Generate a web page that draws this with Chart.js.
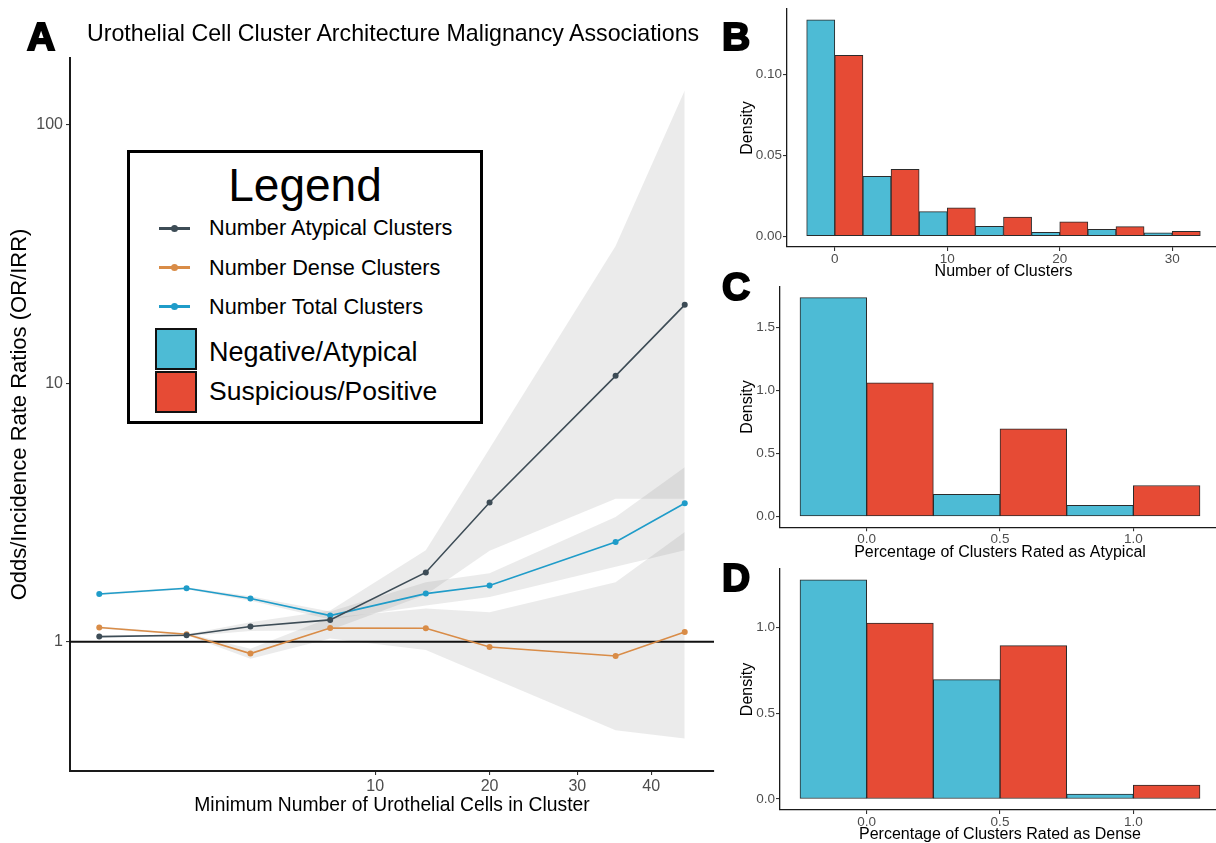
<!DOCTYPE html>
<html>
<head>
<meta charset="utf-8">
<script src="https://cdn.jsdelivr.net/npm/chart.js@4.4.1/dist/chart.umd.min.js"></script>
<style>
    html, body { margin: 0; padding: 0; background: #fff; }
    body { width: 1216px; height: 843px; overflow: hidden; position: relative; font-family: "Liberation Sans", Arial, Helvetica, sans-serif; color: #000; }
    canvas { position: absolute; }
    .txt { position: absolute; white-space: nowrap; }
    .letter { position: absolute; font-weight: 700; font-size: 39px; line-height: 39px; -webkit-text-stroke: 2px #000; }
    #legend { position: absolute; left: 127px; top: 150px; width: 350px; height: 268px; border: 3px solid #000; background: #fff; }
    #legend .lineKey { position: absolute; left: 29px; width: 31px; height: 2.5px; }
    #legend .dot { position: absolute; left: 12px; top: -2.5px; width: 7px; height: 7px; border-radius: 50%; }
    #legend .swatch { position: absolute; left: 25px; width: 42px; height: 42px; box-sizing: border-box; border: 2.5px solid #111; }
</style>
</head>
<body>
<canvas id="chartA" width="720" height="843" style="left:0;top:0"></canvas>
<canvas id="chartB" width="500" height="284" style="left:720px;top:0"></canvas>
<canvas id="chartC" width="500" height="290" style="left:720px;top:272px"></canvas>
<canvas id="chartD" width="500" height="290" style="left:720px;top:555px"></canvas>

<div class="txt" style="left:87px;top:22px;font-size:23.2px;line-height:23.2px">Urothelial Cell Cluster Architecture Malignancy Associations</div>
<div class="letter" style="left:27px;top:17px">A</div>
<div class="letter" style="left:722px;top:17px">B</div>
<div class="letter" style="left:722px;top:267px">C</div>
<div class="letter" style="left:722px;top:558px">D</div>

<div id="legend">
    <div class="txt" style="left:0;width:350px;text-align:center;top:9px;font-size:46px;line-height:46px">Legend</div>
    <div class="lineKey" style="top:74px;background:#3d4c56"><div class="dot" style="background:#3d4c56"></div></div>
    <div class="txt" style="left:79px;top:64px;font-size:21.7px;line-height:21.7px">Number Atypical Clusters</div>
    <div class="lineKey" style="top:113px;background:#d98c47"><div class="dot" style="background:#d98c47"></div></div>
    <div class="txt" style="left:79px;top:104px;font-size:21.7px;line-height:21.7px">Number Dense Clusters</div>
    <div class="lineKey" style="top:152px;background:#1f9cc9"><div class="dot" style="background:#1f9cc9"></div></div>
    <div class="txt" style="left:79px;top:143px;font-size:21.7px;line-height:21.7px">Number Total Clusters</div>
    <div class="swatch" style="top:175px;background:#4DBBD5"></div>
    <div class="swatch" style="top:218px;background:#E64B35"></div>
    <div class="txt" style="left:79px;top:186px;font-size:27px;line-height:27px">Negative/Atypical</div>
    <div class="txt" style="left:79px;top:225px;font-size:26.5px;line-height:26.5px">Suspicious/Positive</div>
</div>

<script>
    // panel A: odds / incidence rate ratios by minimum cluster size
    const MIN_CELLS = [0, 1, 3, 7, 14, 20, 35, 45];
    const ATYPICAL_OR = [1.047, 1.06, 1.145, 1.215, 1.855, 3.46, 10.69, 20.13];
    const ATYPICAL_LO = [1.04, 1.05, 1.10, 1.11, 1.52, 2.25, 3.58, 3.58];
    const ATYPICAL_HI = [1.055, 1.07, 1.19, 1.32, 2.26, 5.6, 34, 136];
    const DENSE_OR = [1.135, 1.069, 0.900, 1.131, 1.128, 0.955, 0.881, 1.091];
    const DENSE_LO = [1.125, 1.06, 0.86, 1.03, 0.93, 0.73, 0.455, 0.422];
    const DENSE_HI = [1.145, 1.08, 0.94, 1.24, 1.345, 1.30, 1.70, 2.66];
    const TOTAL_OR = [1.531, 1.611, 1.470, 1.263, 1.536, 1.650, 2.432, 3.435];
    const TOTAL_LO = [1.515, 1.595, 1.44, 1.22, 1.38, 1.49, 1.95, 2.26];
    const TOTAL_HI = [1.545, 1.625, 1.50, 1.31, 1.70, 1.84, 3.04, 4.74];
    const X_TICKS_A = [10, 20, 30, 40];
    const Y_TICKS_A = [1, 10, 100];
    const REF_LINE = 1;

    // panel B: number of clusters
    const B_BINS = [0, 5, 10, 15, 20, 25, 30];
    const B_NEG = [0.1338, 0.0371, 0.0152, 0.0061, 0.0024, 0.0043, 0.0021];
    const B_POS = [0.1119, 0.0414, 0.0176, 0.0118, 0.0089, 0.0059, 0.0030];
    const B_X_TICKS = [0, 10, 20, 30];
    const B_Y_TICKS = [0, 0.05, 0.10];

    // panel C: share rated atypical
    const C_BINS = [0, 0.5, 1.0];
    const C_NEG = [1.736, 0.174, 0.087];
    const C_POS = [1.060, 0.694, 0.245];
    const C_Y_TICKS = [0, 0.5, 1.0, 1.5];

    // panel D: share rated dense
    const D_BINS = [0, 0.5, 1.0];
    const D_NEG = [1.277, 0.696, 0.029];
    const D_POS = [1.025, 0.894, 0.081];
    const D_Y_TICKS = [0, 0.5, 1.0];
    const PCT_X_TICKS = [0, 0.5, 1.0];

    const ATYPICAL_COLOR = '#3d4c56';
    const DENSE_COLOR = '#d98c47';
    const TOTAL_COLOR = '#1f9cc9';
    const NEG_COLOR = '#4DBBD5';
    const POS_COLOR = '#E64B35';
    const BAND_FILL = 'rgba(128, 128, 128, 0.16)';
    const TICK_TEXT = '#4d4d4d';

    Chart.defaults.font.family = '"Liberation Sans", Arial, Helvetica, sans-serif';
    Chart.defaults.color = '#000';

    // ggplot-like 5% padding of a range
    function expand(lo, hi) {
        const p = (hi - lo) * 0.05;
        return [lo - p, hi + p];
    }

    function fixedTicks(values) {
        return function (scale) {
            scale.ticks = values.map(v => ({ value: v }));
        };
    }

    function axisLook(lineWidth, tickSize) {
        return {
            grid: { drawOnChartArea: false, drawTicks: true, tickLength: 4, color: '#333', lineWidth: 1.1 },
            border: { display: true, color: '#1a1a1a', width: lineWidth },
            ticks: { color: TICK_TEXT, font: { size: tickSize }, maxRotation: 0, autoSkip: false }
        };
    }

    // ---------- panel A ----------
    const sqrtLim = expand(0, Math.sqrt(Math.max(...MIN_CELLS)));
    const logLo = Math.log10(Math.min(...ATYPICAL_LO, ...DENSE_LO, ...TOTAL_LO));
    const logHi = Math.log10(Math.max(...ATYPICAL_HI, ...DENSE_HI, ...TOTAL_HI));
    const logLim = expand(logLo, logHi).map(v => Math.pow(10, v));

    const pts = ys => MIN_CELLS.map((c, i) => ({ x: Math.sqrt(c), y: ys[i] }));

    function lineSet(label, ys, color) {
        return {
            label: label, data: pts(ys), borderColor: color, backgroundColor: color,
            borderWidth: 1.6, pointRadius: 3, pointBorderWidth: 0, fill: false, tension: 0
        };
    }

    function bandSets(lo, hi) {
        return [
            { data: pts(hi), borderColor: 'rgba(0,0,0,0)', borderWidth: 0, pointRadius: 0, fill: false },
            { data: pts(lo), borderColor: 'rgba(0,0,0,0)', borderWidth: 0, pointRadius: 0, fill: '-1', backgroundColor: BAND_FILL }
        ];
    }

    const lookA = axisLook(2, 16);
    new Chart(document.getElementById('chartA'), {
        type: 'line',
        data: {
            datasets: [
                lineSet('Number Atypical Clusters', ATYPICAL_OR, ATYPICAL_COLOR),
                lineSet('Number Dense Clusters', DENSE_OR, DENSE_COLOR),
                lineSet('Number Total Clusters', TOTAL_OR, TOTAL_COLOR),
                {
                    data: [{ x: sqrtLim[0], y: REF_LINE }, { x: sqrtLim[1], y: REF_LINE }],
                    borderColor: '#111', borderWidth: 1.8, pointRadius: 0, fill: false
                },
                ...bandSets(ATYPICAL_LO, ATYPICAL_HI),
                ...bandSets(DENSE_LO, DENSE_HI),
                ...bandSets(TOTAL_LO, TOTAL_HI)
            ]
        },
        options: {
            responsive: false,
            animation: false,
            layout: { padding: { top: 58, right: 6, bottom: 0, left: 0 } },
            plugins: { legend: { display: false }, tooltip: { enabled: false } },
            scales: {
                x: {
                    type: 'linear', bounds: 'data', min: sqrtLim[0], max: sqrtLim[1],
                    afterBuildTicks: fixedTicks(X_TICKS_A.map(Math.sqrt)),
                    afterFit: s => { s.height = 72; },
                    grid: lookA.grid, border: lookA.border,
                    ticks: Object.assign({}, lookA.ticks, { padding: 2, callback: (v, i) => X_TICKS_A[i] }),
                    title: { display: true, text: 'Minimum Number of Urothelial Cells in Cluster', font: { size: 19.3 }, padding: { top: 0, bottom: 26 } }
                },
                y: {
                    type: 'logarithmic', bounds: 'data', min: logLim[0], max: logLim[1],
                    afterBuildTicks: fixedTicks(Y_TICKS_A),
                    afterFit: s => { s.width = 70; },
                    grid: lookA.grid, border: lookA.border,
                    ticks: Object.assign({}, lookA.ticks, { padding: 3, callback: v => String(v) }),
                    title: { display: true, text: 'Odds/Incidence Rate Ratios (OR/IRR)', font: { size: 22 }, padding: { top: 7, bottom: 0 } }
                }
            }
        }
    });

    // ---------- panels B, C, D ----------
    function makeHist(id, bins, neg, pos, xTicks, yTicks, digits, xTitle, box) {
        const w = bins[1] - bins[0];
        const xLim = expand(bins[0] - w / 2, bins[bins.length - 1] + w / 2);
        const yLim = expand(0, Math.max(...neg, ...pos));
        const look = axisLook(1.3, 13.5);
        const barSet = (label, vals, color) => ({
            label: label,
            data: bins.map((b, i) => ({ x: b, y: vals[i] })),
            backgroundColor: color, borderColor: '#2b2b2b', borderWidth: 1,
            borderSkipped: false, categoryPercentage: 1, barPercentage: 1
        });
        new Chart(document.getElementById(id), {
            type: 'bar',
            data: {
                datasets: [
                    barSet('Negative/Atypical', neg, NEG_COLOR),
                    barSet('Suspicious/Positive', pos, POS_COLOR)
                ]
            },
            options: {
                responsive: false,
                animation: false,
                layout: { padding: { top: box.top, right: 0, bottom: 0, left: 0 } },
                plugins: { legend: { display: false }, tooltip: { enabled: false } },
                scales: {
                    x: {
                        type: 'linear', offset: false, bounds: 'data', min: xLim[0], max: xLim[1],
                        afterBuildTicks: fixedTicks(xTicks),
                        afterFit: s => { s.height = box.xh; },
                        grid: Object.assign({}, look.grid, { offset: false }), border: look.border,
                        ticks: Object.assign({}, look.ticks, { padding: box.tickPad, callback: v => xTicks.length === 4 ? String(v) : v.toFixed(1) }),
                        title: { display: true, text: xTitle, font: { size: 16 }, padding: { top: 0, bottom: box.titlePad } }
                    },
                    y: {
                        type: 'linear', bounds: 'data', min: yLim[0], max: yLim[1],
                        afterBuildTicks: fixedTicks(yTicks),
                        afterFit: s => { s.width = box.yw; },
                        grid: look.grid, border: look.border,
                        ticks: Object.assign({}, look.ticks, { padding: 1, callback: v => v.toFixed(digits) }),
                        title: { display: true, text: 'Density', font: { size: 16 }, padding: { top: 18, bottom: 0 } }
                    }
                }
            }
        });
    }

    makeHist('chartB', B_BINS, B_NEG, B_POS, B_X_TICKS, B_Y_TICKS, 2, 'Number of Clusters',
        { top: 5, xh: 37, yw: 67, tickPad: 0, titlePad: 2.7 });
    makeHist('chartC', C_BINS, C_NEG, C_POS, PCT_X_TICKS, C_Y_TICKS, 1, 'Percentage of Clusters Rated as Atypical',
        { top: 14.7, xh: 34.7, yw: 60, tickPad: 0, titlePad: 0.2 });
    makeHist('chartD', D_BINS, D_NEG, D_POS, PCT_X_TICKS, D_Y_TICKS, 1, 'Percentage of Clusters Rated as Dense',
        { top: 14, xh: 35, yw: 60, tickPad: 0, titlePad: 0.6 });
</script>
</body>
</html>
